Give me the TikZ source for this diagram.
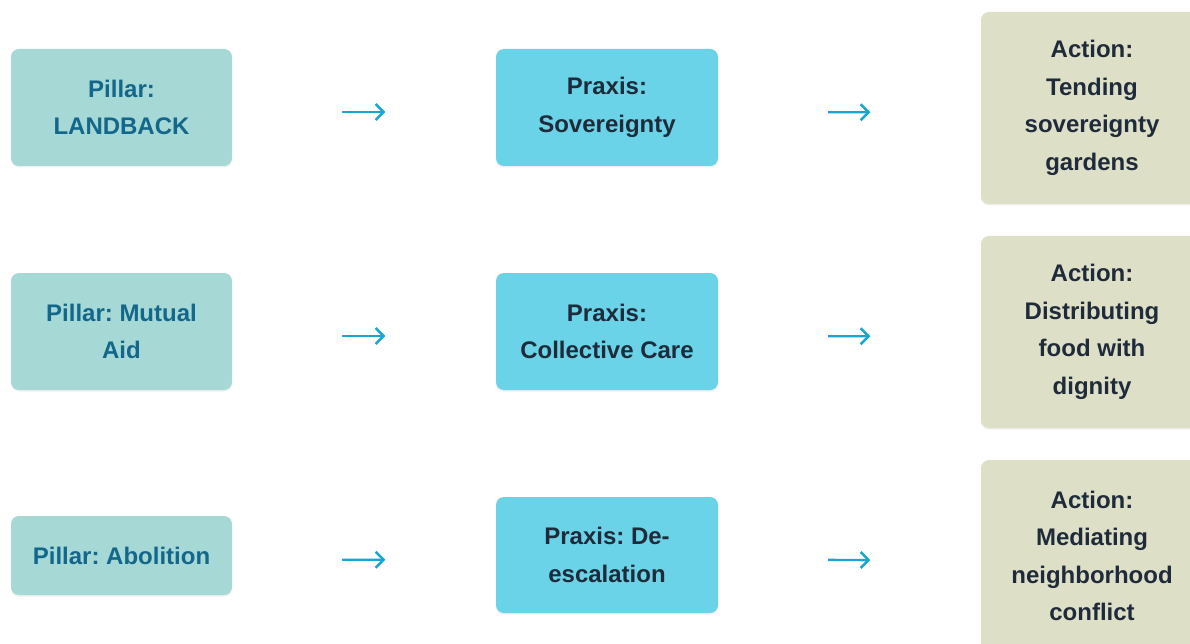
\documentclass[tikz,border=0pt]{standalone}
\usepackage{fontspec}
\setmainfont{Liberation Sans}
\usetikzlibrary{arrows.meta,shadows}
\definecolor{pillarfill}{HTML}{A6D8D6}
\definecolor{pillartext}{HTML}{12678A}
\definecolor{praxisfill}{HTML}{6AD3E7}
\definecolor{actionfill}{HTML}{DDE0C7}
\definecolor{darktext}{HTML}{1F2B3A}
\definecolor{arrowcol}{HTML}{18A5CF}
\begin{document}
\frenchspacing
\begin{tikzpicture}[x=1pt,y=-1pt,
  box/.style={rounded corners=8pt, align=center, inner sep=0pt,
    font=\bfseries\fontsize{24}{37.5}\selectfont,
    drop shadow={opacity=0.12, shadow xshift=0pt, shadow yshift=-1.5pt}},
  pillar/.style={box, fill=pillarfill, text=pillartext, minimum width=221pt, minimum height=117pt},
  praxis/.style={box, fill=praxisfill, text=darktext, minimum width=222pt, minimum height=117pt},
  action/.style={box, fill=actionfill, text=darktext, minimum width=222pt, minimum height=192pt},
  flow/.style={draw=arrowcol, line width=2.4pt, -{Straight Barb[length=8pt,width=16pt,line width=2.4pt]},
    shorten <=110pt, shorten >=110.5pt}]
\useasboundingbox (0,0) rectangle (1190,644);
\clip (0,0) rectangle (1190,644);
\fill[white] (0,0) rectangle (1190,644);

\node[pillar] (A1) at (121.5,107.5) {Pillar:\\LANDBACK};
\node[pillar] (A2) at (121.5,331.5) {Pillar: Mutual\\Aid};
\node[pillar, minimum height=79pt] (A3) at (121.5,555.5) {Pillar: Abolition};

\node[praxis] (B1) at (607,107.5) {Praxis:\\Sovereignty};
\node[praxis] (B2) at (607,331.5) {Praxis:\\Collective Care};
\node[praxis, minimum height=116pt] (B3) at (607,555) {Praxis: De-\\escalation};

\node[action] (C1) at (1092,108) {Action:\\Tending\\sovereignty\\gardens};
\node[action] (C2) at (1092,332) {Action:\\Distributing\\food with\\dignity};
\node[action] (C3) at (1092,556) {Action:\\Mediating\\neighborhood\\conflict};

\draw[flow] ([yshift=-4.5pt]A1.east) -- ([yshift=-4.5pt]B1.west);
\draw[flow] ([yshift=-4.5pt]B1.east) -- ([yshift=-4.5pt]C1.west);
\draw[flow] ([yshift=-4.5pt]A2.east) -- ([yshift=-4.5pt]B2.west);
\draw[flow] ([yshift=-4.5pt]B2.east) -- ([yshift=-4.5pt]C2.west);
\draw[flow] ([yshift=-4.5pt]A3.east) -- ([yshift=-4.5pt]B3.west);
\draw[flow] ([yshift=-4.5pt]B3.east) -- ([yshift=-4.5pt]C3.west);
\end{tikzpicture}
\end{document}
